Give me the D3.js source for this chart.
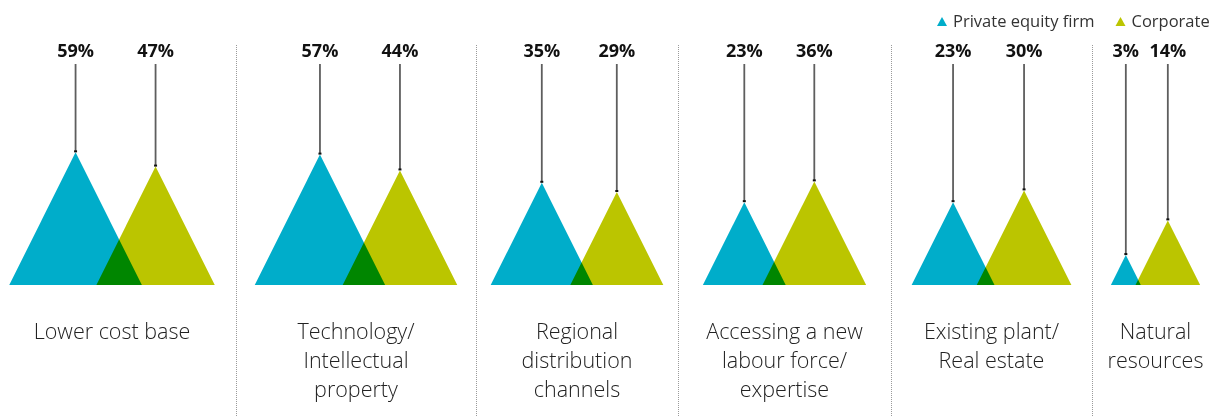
<!DOCTYPE html>
<html>
<head>
<meta charset="utf-8">
<script src="https://cdn.jsdelivr.net/npm/d3@7"></script>
<style>
  html, body { margin: 0; padding: 0; background: #fff; }
  svg { display: block; font-family: "Open Sans", "Noto Sans", sans-serif; }
</style>
</head>
<body>
<svg id="chart" width="1214" height="416"></svg>
<script>
// Reasons for the deal, share of respondents (%)
const categories = [
  "Lower cost base",
  "Technology/\nIntellectual\nproperty",
  "Regional\ndistribution\nchannels",
  "Accessing a new\nlabour force/\nexpertise",
  "Existing plant/\nReal estate",
  "Natural\nresources"
];
const seriesNames = ["Private equity firm", "Corporate"];
const privateEquity = [59, 57, 35, 23, 23, 3];
const corporate = [47, 44, 29, 36, 30, 14];

// Layout: column edges (px) and spacing between the two peaks of each pair
const columnEdges = [-12, 236, 476, 678, 891, 1092, 1219];
const peakSpacing = [80, 80, 75, 70, 71, 42];
const colors = ["#00adca", "#bbc500"];

const W = 1214, H = 416;
const baseY = 285;
const valueLabelY = 57;
const pointerTop = 64;

const svg = d3.select("#chart");

// Triangle area encodes the value: height (= base width) grows with sqrt(value)
const size = d3.scaleSqrt().domain([0, 100]).range([0, 172.7]);

// Column separators
svg.append("g").selectAll("line")
  .data(columnEdges.slice(1, -1))
  .join("line")
  .attr("x1", d => d + 0.5).attr("x2", d => d + 0.5)
  .attr("y1", 45).attr("y2", H)
  .attr("stroke", "#9a9a9a")
  .attr("stroke-width", 1)
  .attr("stroke-dasharray", "1,1");

const groups = categories.map((c, i) => {
  const cx = (columnEdges[i] + columnEdges[i + 1]) / 2;
  const vals = [privateEquity[i], corporate[i]];
  const hs = vals.map(v => size(v));
  const s = peakSpacing[i];
  const xa = cx - s / 2 - (hs[1] - hs[0]) / 4;
  const xs = [xa, xa + s];
  return { label: c, cx, items: vals.map((v, k) => ({ v, h: hs[k], x: xs[k], k })) };
});

const tri = d => `M${d.x - d.h / 2},${baseY} L${d.x},${baseY - d.h} L${d.x + d.h / 2},${baseY} Z`;

const gGroups = svg.append("g").selectAll("g.group")
  .data(groups).join("g").attr("class", "group")
  .style("isolation", "isolate");

// Triangles; overlapping parts blend to a darker green
gGroups.selectAll("path.tri")
  .data(d => d.items)
  .join("path")
  .attr("class", "tri")
  .attr("d", tri)
  .attr("fill", d => colors[d.k])
  .style("mix-blend-mode", "multiply");

// Pointer lines from value labels to peaks
gGroups.selectAll("line.ptr")
  .data(d => d.items)
  .join("line")
  .attr("class", "ptr")
  .attr("x1", d => d.x).attr("x2", d => d.x)
  .attr("y1", pointerTop).attr("y2", d => baseY - d.h - 1)
  .attr("stroke", "#5e5e5e")
  .attr("stroke-width", 1.8);

gGroups.selectAll("rect.tip")
  .data(d => d.items)
  .join("rect")
  .attr("class", "tip")
  .attr("x", d => d.x - 1.5).attr("y", d => baseY - d.h - 2)
  .attr("width", 3).attr("height", 2)
  .attr("fill", "#111");

// Value labels
gGroups.selectAll("text.val")
  .data(d => d.items)
  .join("text")
  .attr("class", "val")
  .attr("x", d => d.x).attr("y", valueLabelY)
  .attr("text-anchor", "middle")
  .attr("font-size", 18)
  .attr("font-weight", 700)
  .attr("fill", "#111")
  .text(d => d.v + "%");

// Category labels
gGroups.append("text")
  .attr("class", "cat")
  .attr("text-anchor", "middle")
  .attr("font-size", 21.5)
  .attr("font-weight", 300)
  .attr("fill", "#222")
  .selectAll("tspan")
  .data(d => d.label.split("\n").map(t => ({ t, cx: d.cx })))
  .join("tspan")
  .attr("x", d => d.cx)
  .attr("y", (d, j) => 339 + j * 29)
  .text(d => d.t);

// Legend
const legendPos = [{ x: 942, tx: 953 }, { x: 1120.5, tx: 1131.5 }];
const legend = svg.append("g").selectAll("g")
  .data(seriesNames).join("g");
legend.append("path")
  .attr("d", (d, i) => `M${legendPos[i].x - 5},26 L${legendPos[i].x},17 L${legendPos[i].x + 5},26 Z`)
  .attr("fill", (d, i) => colors[i]);
legend.append("text")
  .attr("x", (d, i) => legendPos[i].tx)
  .attr("y", 27)
  .attr("font-size", 16.5)
  .attr("fill", "#333")
  .text(d => d);
</script>
</body>
</html>
